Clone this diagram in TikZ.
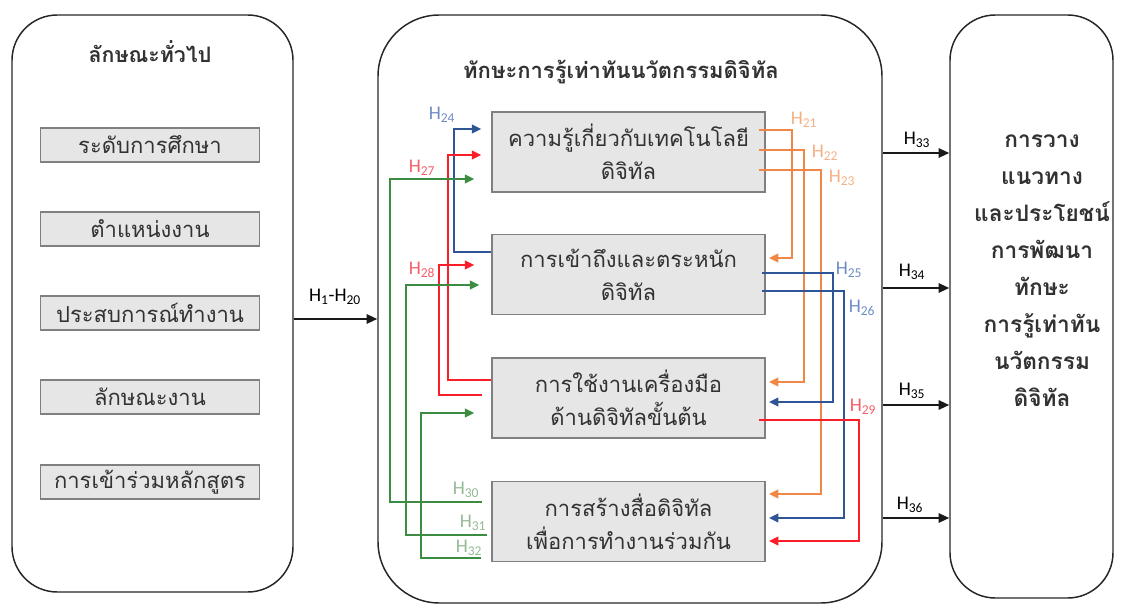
\documentclass[tikz,border=0pt]{standalone}
\usepackage{fontspec}
\setmainfont{Carlito}
\newfontfamily\thai[Script=Thai]{Loma}
\usetikzlibrary{arrows.meta}
\definecolor{oline}{RGB}{240,135,70}
\definecolor{olab}{RGB}{244,176,132}
\definecolor{bline}{RGB}{47,85,151}
\definecolor{blab}{RGB}{110,140,195}
\definecolor{rline}{RGB}{250,30,40}
\definecolor{rlab}{RGB}{245,95,105}
\definecolor{gline}{RGB}{60,140,65}
\definecolor{glab}{RGB}{150,185,150}
\definecolor{boxfill}{RGB}{230,230,230}
\definecolor{boxdraw}{RGB}{128,128,128}
\definecolor{txt}{RGB}{50,50,50}
\begin{document}
\begin{tikzpicture}[x=0.75pt,y=-0.75pt,
  panel/.style={draw=black!85, line width=1.1pt, inner sep=0pt},
  thaititle/.style={font=\thai\bfseries\fontsize{16.5}{19}\selectfont, inner sep=0pt, text=txt},
  lbox/.style={draw=boxdraw, fill=boxfill, line width=1.1pt, minimum width=164pt, minimum height=25.5pt, inner sep=0pt, text=txt, font=\thai\fontsize{16.5}{19}\selectfont},
  mbox/.style={draw=boxdraw, fill=boxfill, line width=1.1pt, minimum width=204.75pt, minimum height=60pt, inner sep=0pt, align=center, text=txt, font=\thai\fontsize{16.5}{24.75}\selectfont},
  lab/.style={font=\fontsize{14.5}{16}\selectfont, inner sep=0pt},
  conn/.style={line width=1.4pt, -{Triangle[length=7pt,width=6.5pt]}},
  bigarrow/.style={line width=1.5pt, black!90, -{Triangle[length=8pt,width=7pt]}}
]
\useasboundingbox (0,0) rectangle (1122,606);

% panels
\node[panel, rounded corners=34pt, minimum width=210.75pt, minimum height=432.75pt] (left) at (152.5,303.5) {};
\node[panel, rounded corners=46pt, minimum width=378pt, minimum height=441pt] (mid) at (630,309) {};
\node[panel, rounded corners=34pt, minimum width=122.25pt, minimum height=437.25pt] (right) at (1031.5,306.5) {};

% titles
\node[thaititle, font=\thai\bfseries\fontsize{16}{19}\selectfont] (ltitle) at (150,52) {ลักษณะทั่วไป};
\node[thaititle] (mtitle) at (621,72) {ทักษะการรู้เท่าทันนวัตกรรมดิจิทัล};
\node[thaititle, align=center, font=\thai\bfseries\fontsize{17}{27.75}\selectfont] (rtext) at (1042,271) {การวาง\\แนวทาง\\และประโยชน์\\การพัฒนา\\ทักษะ\\การรู้เท่าทัน\\นวัตกรรม\\ดิจิทัล};

% left boxes
\node[lbox] (l1) at (150,145) {ระดับการศึกษา};
\node[lbox] (l2) at (150,229) {ตำแหน่งงาน};
\node[lbox] (l3) at (150,313) {ประสบการณ์ทำงาน};
\node[lbox] (l4) at (150,397) {ลักษณะงาน};
\node[lbox] (l5) at (150,482) {การเข้าร่วมหลักสูตร};

% middle boxes
\node[mbox] (b1) at (628.5,152) {ความรู้เกี่ยวกับเทคโนโลยี\\ดิจิทัล};
\node[mbox] (b2) at (628.5,274.5) {การเข้าถึงและตระหนัก\\ดิจิทัล};
\node[mbox] (b3) at (628.5,398) {การใช้งานเครื่องมือ\\ด้านดิจิทัลขั้นต้น};
\node[mbox] (b4) at (628.5,521.5) {การสร้างสื่อดิจิทัล\\เพื่อการทำงานร่วมกัน};

% big arrows
\draw[bigarrow] (left.east |- 0,319) -- (mid.west |- 0,319);
\draw[bigarrow] (mid.east |- 0,153) -- (right.west |- 0,153);
\draw[bigarrow] (mid.east |- 0,288) -- (right.west |- 0,288);
\draw[bigarrow] (mid.east |- 0,405) -- (right.west |- 0,405);
\draw[bigarrow] (mid.east |- 0,518) -- (right.west |- 0,518);

% left-side connectors
\draw[conn, bline, shorten >=7.5pt] (b2.west |- 0,252) -| (454,129) -- (b1.west |- 0,129);
\draw[conn, rline, shorten >=7.5pt] (b3.west |- 0,380) -| (448,155) -- (b1.west |- 0,155);
\draw[conn, gline, shorten >=12.75pt] ([xshift=-7pt]b4.west |- 0,502) -| (390,179) -- (b1.west |- 0,179);
\draw[conn, rline, shorten >=12.75pt] ([xshift=-7pt]b3.west |- 0,395) -| (439,265) -- (b2.west |- 0,265);
\draw[conn, gline, shorten >=9pt] ([xshift=-3pt]b4.west |- 0,535) -| (406,285) -- (b2.west |- 0,285);
\draw[conn, gline, shorten >=12.75pt] ([xshift=-7.5pt]b4.west |- 0,558) -| (421,413) -- (b3.west |- 0,413);

% right-side connectors
\draw[conn, oline, shorten >=2.5pt] ([xshift=-5pt]b1.east |- 0,130) -| (792,258) -- (b2.east |- 0,258);
\draw[conn, oline, shorten >=2.5pt] ([xshift=-5pt]b1.east |- 0,150) -| (804,382) -- (b3.east |- 0,382);
\draw[conn, oline, shorten >=2.5pt] ([xshift=-5pt]b1.east |- 0,170) -| (821,494) -- (b4.east |- 0,494);
\draw[conn, bline, shorten >=2.5pt] ([xshift=-3pt]b2.east |- 0,273) -| (833,402) -- (b3.east |- 0,402);
\draw[conn, bline, shorten >=2.5pt] ([xshift=-3pt]b2.east |- 0,291) -| (844,518) -- (b4.east |- 0,518);
\draw[conn, rline, shorten >=2.5pt] ([xshift=-5pt]b3.east |- 0,420) -| (859,541) -- (b4.east |- 0,541);

% labels
\node[lab] (h1) at (335,297) {H\textsubscript{1}-H\textsubscript{20}};
\node[lab, blab] (h24) at (442,115) {H\textsubscript{24}};
\node[lab, rlab] (h27) at (422,168) {H\textsubscript{27}};
\node[lab, rlab] (h28) at (422,270) {H\textsubscript{28}};
\node[lab, glab] (h30) at (466,490) {H\textsubscript{30}};
\node[lab, glab] (h31) at (473,523) {H\textsubscript{31}};
\node[lab, glab] (h32) at (469,548) {H\textsubscript{32}};
\node[lab, olab] (h21) at (804,120) {H\textsubscript{21}};
\node[lab, olab] (h22) at (825,153) {H\textsubscript{22}};
\node[lab, olab] (h23) at (842,178) {H\textsubscript{23}};
\node[lab, blab] (h25) at (849,270) {H\textsubscript{25}};
\node[lab, blab] (h26) at (862,308) {H\textsubscript{26}};
\node[lab, rlab] (h29) at (863,407) {H\textsubscript{29}};
\node[lab] (h33) at (917,140) {H\textsubscript{33}};
\node[lab] (h34) at (912,272) {H\textsubscript{34}};
\node[lab] (h35) at (912,391) {H\textsubscript{35}};
\node[lab] (h36) at (910,505) {H\textsubscript{36}};
\end{tikzpicture}
\end{document}
